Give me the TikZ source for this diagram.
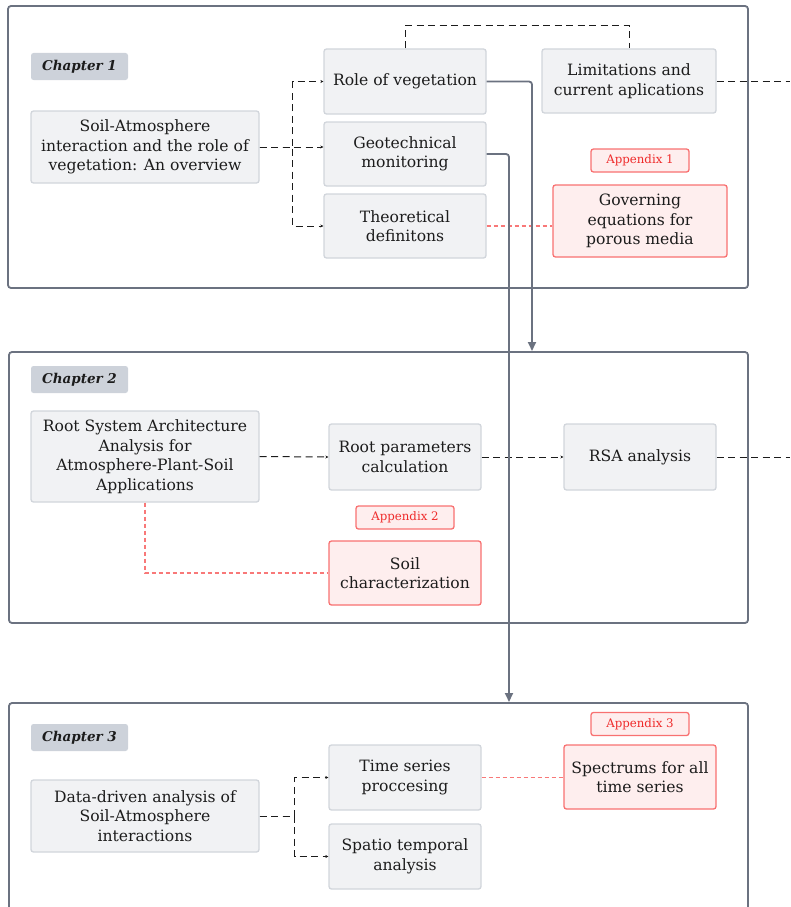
\documentclass[tikz,border=0pt]{standalone}
\usepackage{fontspec}
\setmainfont{DejaVu Serif}
\usetikzlibrary{arrows.meta}
\definecolor{boxfill}{HTML}{F1F2F4}
\definecolor{boxline}{HTML}{D1D5DB}
\definecolor{redfill}{HTML}{FEEEEE}
\definecolor{redline}{HTML}{F87171}
\definecolor{redlinkc}{HTML}{F87878}
\definecolor{redtext}{HTML}{EF2B2B}
\definecolor{framegray}{HTML}{6B7280}
\definecolor{tagfill}{HTML}{CDD2DA}
\definecolor{ink}{HTML}{1C1C1C}

\begin{document}
\begin{tikzpicture}[x=1pt,y=-1pt,>={Stealth[length=3pt,width=3pt]}]
    \tikzstyle{every node}=[font=\fontsize{15.6}{19.5}\selectfont,text=ink,align=center,inner sep=0pt];
    \tikzstyle{frame}=[draw=framegray,line width=1.8pt,rounded corners=3pt];
    \tikzstyle{box}=[draw=boxline,fill=boxfill,line width=1.3pt,rounded corners=2.5pt];
    \tikzstyle{redbox}=[draw=redline,fill=redfill,line width=1.3pt,rounded corners=2.5pt];
    \tikzstyle{tag}=[fill=tagfill,rounded corners=2.5pt,minimum width=97,minimum height=27,font=\fontsize{13.5}{15}\selectfont\bfseries\itshape];
    \tikzstyle{redtag}=[redbox,minimum width=98,minimum height=23,text=redtext,font=\fontsize{11.8}{13}\selectfont];
    \tikzstyle{link}=[draw=ink,line width=1pt,dash pattern=on 7pt off 4.5pt,->];
    \tikzstyle{redlink}=[draw=redlinkc,line width=1.3pt,dash pattern=on 4pt off 3pt];
    \tikzstyle{flow}=[draw=framegray,line width=1.8pt,rounded corners=3pt,-{Triangle[length=9pt,width=8pt]}];
    \useasboundingbox (0,0) rectangle (790,907);
    \clip (0,0) rectangle (790,907);
    % frames
    \node[frame,minimum width=740,minimum height=282] (chapA) at (378,147) {};
    \node[frame,minimum width=739,minimum height=271] (chapB) at (378.5,487.5) {};
    \node[frame,minimum width=739,minimum height=230] (chapC) at (378.5,818) {};
    % chapter 1
    \node[tag] (tagA) at (79.5,66.5) {Chapter 1};
    \node[box,minimum width=228,minimum height=72] (soil) at (145,147) {Soil-Atmosphere\\interaction and the role of\\vegetation: An overview};
    \node[box,minimum width=162,minimum height=65] (role) at (405,81.5) {Role of vegetation};
    \node[box,minimum width=162,minimum height=64] (geo) at (405,154) {Geotechnical\\monitoring};
    \node[box,minimum width=162,minimum height=64] (theory) at (405,226) {Theoretical\\definitons};
    \node[box,minimum width=174,minimum height=64] (limit) at (629,81) {Limitations and\\current aplications};
    \node[redtag] (appA) at (640,160.5) {Appendix 1};
    \node[redbox,minimum width=174,minimum height=72] (govern) at (640,221) {Governing\\equations for\\porous media};
    % chapter 2
    \node[tag] (tagB) at (79.5,379.5) {Chapter 2};
    \node[box,minimum width=228,minimum height=91] (rsa) at (145,456.5) {Root System Architecture\\Analysis for\\Atmosphere-Plant-Soil\\Applications};
    \node[box,minimum width=152,minimum height=66] (params) at (405,457) {Root parameters\\calculation};
    \node[box,minimum width=152,minimum height=66] (rsaan) at (640,457) {RSA analysis};
    \node[redtag] (appB) at (405,517.5) {Appendix 2};
    \node[redbox,minimum width=152,minimum height=64] (soilc) at (405,573) {Soil\\characterization};
    % chapter 3
    \node[tag] (tagC) at (79.5,737.5) {Chapter 3};
    \node[box,minimum width=228,minimum height=72] (data) at (145,816) {Data-driven analysis of\\Soil-Atmosphere\\interactions};
    \node[box,minimum width=152,minimum height=65] (time) at (405,777.5) {Time series\\proccesing};
    \node[box,minimum width=152,minimum height=65] (spatio) at (405,856.5) {Spatio temporal\\analysis};
    \node[redtag] (appC) at (640,724) {Appendix 3};
    \node[redbox,minimum width=152,minimum height=64] (spectra) at (640,777) {Spectrums for all\\time series};
    % links
    \coordinate (outA) at (790,81);
    \coordinate (outB) at (790,457);
    \coordinate (dropB) at (532,351);
    \coordinate (dropC) at (509,702);
    \draw[link] (soil.east) -- ++(33,0) |- (role.west);
    \draw[link] (soil.east) -- (soil.east -| geo.west);
    \draw[link] (soil.east) -- ++(33,0) |- (theory.west);
    \draw[link,-] (role.north) -- ++(0,-23) -| (limit.north);
    \draw[link,-] (limit.east) -- (outA);
    \draw[redlink] (theory.east) -- (theory.east -| govern.west);
    \draw[link] (rsa.east) -- (params.west);
    \draw[link] (params.east) -- (rsaan.west);
    \draw[link,-] (rsaan.east) -- (outB);
    \draw[redlink] (rsa.south) |- (soilc.west);
    \draw[link] (data.east) -- ++(35,0) |- (time.west);
    \draw[link] (data.east) -- ++(35,0) |- (spatio.west);
    \draw[redlink] (time.east) -- (time.east -| spectra.west);
    \draw[flow] (role.east) -| (dropB);
    \draw[flow] (geo.east) -| (dropC);
\end{tikzpicture}
\end{document}
